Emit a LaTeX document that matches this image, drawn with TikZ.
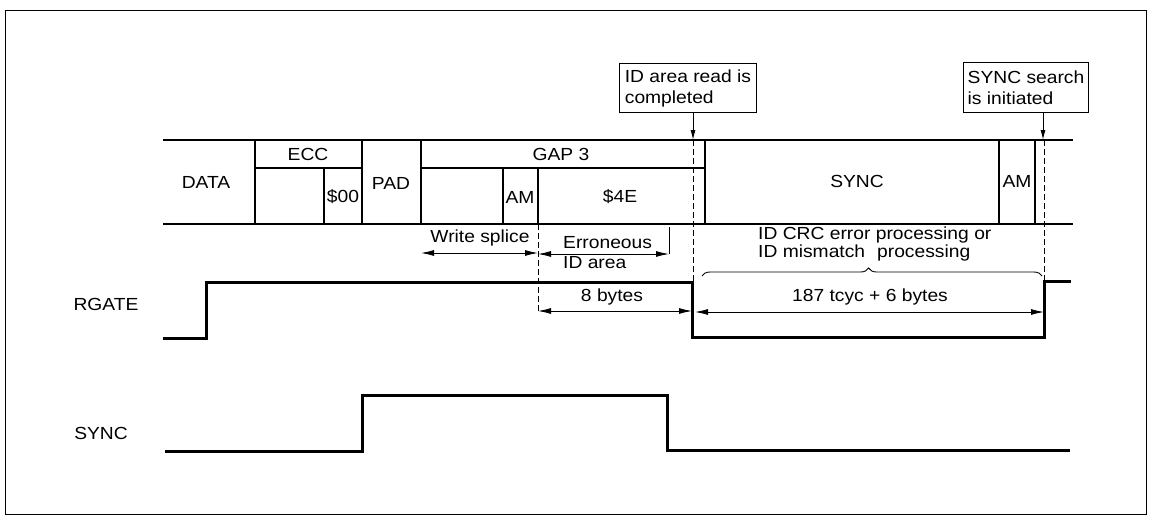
\documentclass[tikz,border=0pt]{standalone}
\usepackage{fontspec}
\setmainfont{Liberation Sans}[FakeStretch=1.1]
\usetikzlibrary{arrows.meta,decorations.pathreplacing}

\begin{document}
\begin{tikzpicture}[
    x=1pt, y=-1pt,
    font=\fontsize{17.5}{20}\selectfont,
    track/.style={line width=1.6pt},
    signal/.style={line width=3pt, line join=miter},
    guide/.style={line width=0.8pt, dash pattern=on 6pt off 3pt},
    dim/.style={{Latex[length=13pt,width=6pt]}-{Latex[length=13pt,width=6pt]}, line width=0.9pt},
    arr/.style={-{Latex[length=10pt,width=5pt]}, line width=1pt},
    callout/.style={draw, line width=1pt, align=left, inner sep=0pt, anchor=north west, font=\fontsize{17.5}{21}\selectfont},
    lbl/.style={inner sep=0pt},
]
\useasboundingbox (0,0) rectangle (1152,520);
\draw[line width=0.8pt] (5,10) rectangle (1146,514);

% track format
\draw[track] (163,140) -- (1073,140);
\draw[track] (163,224) -- (1073,224);
\foreach \x in {255,362,421,705,999,1035} \draw[track] (\x,140) -- (\x,224);
\foreach \x in {324,503,538} \draw[track] (\x,168) -- (\x,224);
\draw[track] (255,168) -- (362,168);
\draw[track] (421,168) -- (705,168);

\node[lbl] (data) at (206,182) {DATA};
\node[lbl] (ecc) at (308,154) {ECC};
\node[lbl] (ecc00) at (343,197) {\$00};
\node[lbl] (pad) at (391,183) {PAD};
\node[lbl] (gap3) at (561,154) {GAP 3};
\node[lbl] (gapam) at (520,197) {AM};
\node[lbl] (gap4e) at (620,197) {\$4E};
\node[lbl] (syncfld) at (857,181) {SYNC};
\node[lbl] (syncam) at (1017,181) {AM};

% callouts
\node[callout, minimum width=137pt, minimum height=49pt] (idread) at (619,63) {ID area read is\\completed};
\node[callout, minimum width=125pt, minimum height=50pt] (search) at (963,62) {SYNC search\\is initiated};
\coordinate (idtip) at (693,140);
\coordinate (searchtip) at (1043,140);
\draw[arr] (idtip |- idread.south) -- (idtip);
\draw[arr] (searchtip |- search.south) -- (searchtip);

% guides
\coordinate (idfall) at (693,281);
\coordinate (searchrise) at (1044,281);
\draw[guide] (idtip) -- (idfall);
\draw[guide] (1044,140) -- (searchrise);
\draw[guide, line width=0.6pt] (538,224) -- (538,311);
\draw[line width=0.9pt] (669,227) -- (669,254);

% dimensions
\coordinate (ws1) at (421,253);
\coordinate (ws2) at (538,253);
\draw[dim] (ws1) -- (ws2);
\node[lbl] (wstxt) at (480,238) {Write splice};
\coordinate (er1) at (538,254);
\coordinate (er2) at (669,254);
\draw[dim] (er1) -- (er2);
\node[lbl, anchor=west] (ertxt) at (563,243) {Erroneous};
\node[lbl, anchor=west] (ertxtb) at (563,263) {ID area};
\coordinate (eb1) at (538,311);
\coordinate (eb2) at (692,311);
\draw[dim] (eb1) -- (eb2);
\node[lbl] (ebtxt) at (612,297) {8 bytes};
\coordinate (tc1) at (695,312);
\coordinate (tc2) at (1044,312);
\draw[dim] (tc1) -- (tc2);
\node[lbl] (tctxt) at (870,297) {187 tcyc + 6 bytes};

\node[lbl, anchor=west] (proca) at (758,235) {ID CRC error processing or};
\node[lbl, anchor=west] (procb) at (758,253) {ID mismatch\hspace{12pt}processing};
\draw[line width=0.9pt, decorate, decoration={brace, amplitude=8pt, aspect=0.49}] (702,276) -- (1042,276);

% signals
\node[lbl] (rgate) at (106,304) {RGATE};
\node[lbl] (sync) at (101,433) {SYNC};
\draw[signal] (163,338) -- (206,338) -- (206,282) -- (692,282) -- (692,337) -- (1044,337) -- (1044,281) -- (1071,281);
\draw[signal] (165,451) -- (362,451) -- (362,395) -- (667,395) -- (667,450) -- (1070,450);
\end{tikzpicture}
\end{document}
